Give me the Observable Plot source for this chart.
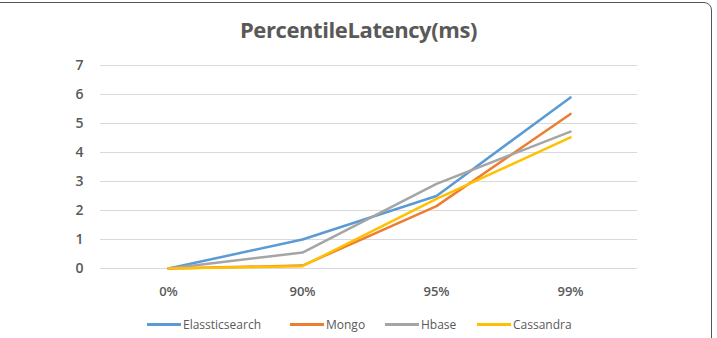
<!DOCTYPE html>
<html>
<head>
<meta charset="utf-8">
<script src="https://cdn.jsdelivr.net/npm/d3@7"></script>
<script src="https://cdn.jsdelivr.net/npm/@observablehq/plot@0.6"></script>
<style>
  html, body { margin: 0; padding: 0; background: #fff; }
  #frame { position: relative; width: 717px; height: 338px; overflow: hidden; font-family: "Open Sans", "Liberation Sans", sans-serif; }
  #border { position: absolute; left: -20px; top: 2px; width: 732px; height: 400px; border: 1.5px solid #555; border-radius: 8px; box-sizing: border-box; }
  #title { position: absolute; left: 0; top: 14px; width: 717px; text-align: center; font-size: 22px; font-weight: 700; color: #595959; letter-spacing: -0.4px; }
  #chart { position: absolute; left: 0; top: 50px; }
  #legend { position: absolute; left: 0; top: 316px; width: 717px; height: 18px; font-size: 12px; color: #595959; }
  .item { position: absolute; top: 0; display: flex; align-items: center; }
  .sw { display: inline-block; width: 34px; height: 3px; margin-right: 2px; }
</style>
</head>
<body>
<div id="frame">
  <div id="border"></div>
  <div id="title">PercentileLatency(ms)</div>
  <div id="chart"></div>
  <div id="legend"></div>
</div>
<script>
const percentiles = ["0%", "90%", "95%", "99%"];
const seriesNames = ["Elassticsearch", "Mongo", "Hbase", "Cassandra"];
const elasticsearch = [0, 1.0, 2.5, 5.9];
const mongo = [0, 0.1, 2.15, 5.33];
const hbase = [0, 0.55, 2.92, 4.72];
const cassandra = [0, 0.08, 2.4, 4.52];
const colors = ["#5B9BD5", "#ED7D31", "#A5A5A5", "#FFC000"];
const yTicks = [0, 1, 2, 3, 4, 5, 6, 7];

const seriesValues = [elasticsearch, mongo, hbase, cassandra];
const data = [];
seriesNames.forEach((s, i) => {
  percentiles.forEach((p, j) => data.push({series: s, pct: p, value: seriesValues[i][j]}));
});

const chart = Plot.plot({
  width: 717,
  height: 262,
  marginLeft: 100,
  marginRight: 80,
  marginTop: 15,
  marginBottom: 44,
  style: {fontFamily: "'Open Sans', 'Liberation Sans', sans-serif", fontSize: "13px", color: "#595959", background: "transparent"},
  x: {type: "point", domain: percentiles, padding: 0.5, label: null},
  y: {domain: [0, 7], ticks: yTicks, label: null},
  color: {domain: seriesNames, range: colors},
  marks: [
    Plot.gridY(yTicks, {stroke: "#d9d9d9", strokeOpacity: 1, strokeWidth: 1}),
    Plot.axisX({tickSize: 0, tickPadding: 18, fontWeight: 600, fontSize: 13, label: null}),
    Plot.axisY(yTicks, {tickSize: 0, tickPadding: 17, fontWeight: 600, fontSize: 14, label: null}),
    Plot.line(data, {x: "pct", y: "value", z: "series", stroke: "series", strokeWidth: 2.5, strokeLinejoin: "round", strokeLinecap: "round"})
  ]
});
document.getElementById("chart").appendChild(chart);

const legendPos = [147, 290, 385, 477];
const legend = document.getElementById("legend");
seriesNames.forEach((s, i) => {
  const item = document.createElement("div");
  item.className = "item";
  item.style.left = legendPos[i] + "px";
  const sw = document.createElement("span");
  sw.className = "sw";
  sw.style.background = colors[i];
  const t = document.createElement("span");
  t.textContent = s;
  item.appendChild(sw);
  item.appendChild(t);
  legend.appendChild(item);
});
</script>
</body>
</html>
